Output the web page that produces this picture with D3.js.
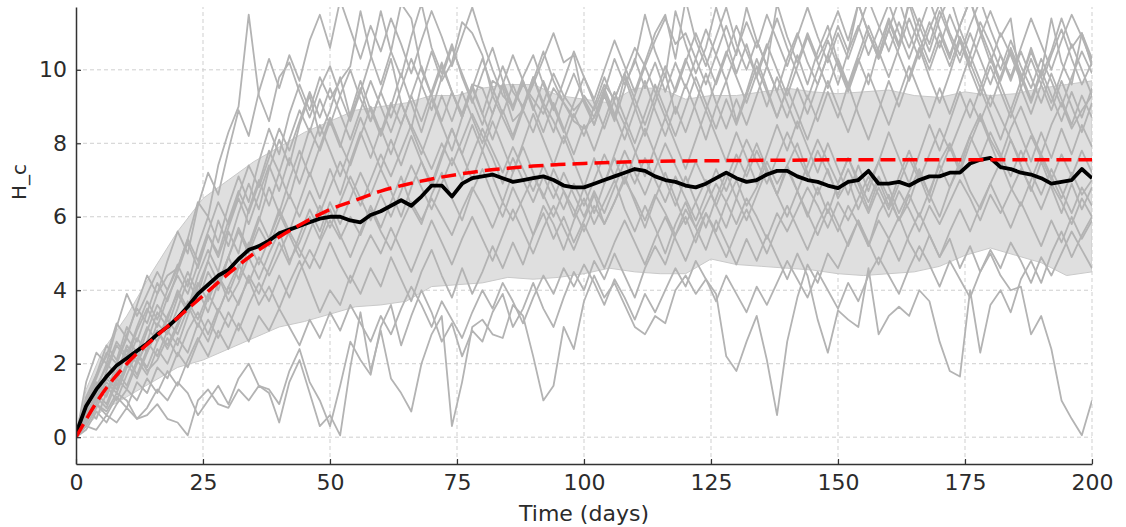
<!DOCTYPE html>
<html>
<head>
<meta charset="utf-8">
<script src="https://cdn.jsdelivr.net/npm/d3@7"></script>
<style>
  html, body { margin: 0; padding: 0; background: #fff; }
  svg { display: block; font-family: "DejaVu Sans", sans-serif; }
</style>
</head>
<body>
<div id="chart"></div>
<script>
// tick labels
const xTicks = [0, 25, 50, 75, 100, 125, 150, 175, 200];
const yTicks = [0, 2, 4, 6, 8, 10];

// simulated runs are sampled every 2 days (0..200)
const stepDays = d3.range(0, 201, 2);

const run01 = [
  0, 0.3, 0.2, 0.6, 0.4, 0.8, 0.5, 0.6, 0.9, 0.5,
  0.4, 0.05, 1.0, 1.3, 0.9, 0.8, 1.3, 1.0, 1.4, 1.2,
  0.4, 1.5, 2.1, 1.2, 0.3, 0.6, 0.05, 1.9, 3.4, 1.8,
  2.9, 1.6, 1.2, 0.7, 2.0, 2.8, 3.3, 0.3, 1.5, 3.0,
  3.2, 2.8, 2.7, 3.6, 3.3, 2.2, 1.0, 1.4, 3.0, 2.4,
  3.7, 4.4, 3.8, 4.2, 3.6, 3.0, 2.8, 3.3, 3.1, 4.0,
  4.4, 3.9, 4.3, 3.9, 2.2, 1.8, 2.6, 3.3, 2.1, 0.6,
  2.6, 3.8, 4.7, 4.2, 5.0, 4.6, 5.3, 5.9, 5.2, 6.1,
  6.6, 5.9, 6.4, 7.2, 6.6, 7.5, 8.0, 7.3, 8.2, 8.8,
  8.1, 7.6, 8.4, 9.0, 8.3, 7.7, 8.5, 9.1, 8.4, 8.9,
  9.3];
const run02 = [
  0, 0.5, 0.9, 0.7, 1.2, 1.0, 0.5, 0.8, 1.3, 1.0,
  1.5, 1.2, 0.6, 1.0, 1.4, 0.9, 1.6, 2.0, 1.4, 1.3,
  0.9, 1.8, 2.4, 1.5, 1.0, 0.3, 1.4, 2.6, 2.1, 1.7,
  3.0, 3.6, 2.5, 3.3, 4.0, 3.4, 2.6, 3.1, 2.2, 2.9,
  2.6, 3.4, 3.9, 3.0, 3.5, 4.2, 3.5, 3.0, 3.8, 4.5,
  4.0, 4.8, 4.3, 5.0, 4.4, 3.8, 4.6, 5.2, 4.7, 5.5,
  6.0, 5.3, 6.1, 5.6, 6.4, 7.0, 6.3, 6.8, 7.5, 6.9,
  7.4, 8.0, 7.2, 6.6, 7.3, 6.5, 7.0, 6.2, 6.9, 7.5,
  6.8, 6.1, 6.7, 7.3, 6.6, 6.0, 6.8, 7.4, 6.7, 6.2,
  6.9, 7.5, 6.8, 6.3, 7.0, 7.7, 7.1, 6.5, 7.2, 6.6,
  7.0];
const run03 = [
  0, 0.8, 1.3, 1.1, 1.8, 2.2, 1.7, 2.4, 2.9, 2.5,
  3.1, 3.6, 3.0, 3.8, 4.4, 3.7, 4.2, 4.9, 4.3, 5.0,
  5.6, 4.8, 5.3, 6.0, 5.4, 6.2, 5.5, 4.9, 5.6, 6.3,
  5.7, 6.4, 7.1, 6.3, 5.8, 6.6, 7.2, 6.5, 5.9, 6.7,
  7.3, 6.6, 6.0, 6.8, 6.2, 5.5, 6.3, 5.8, 5.1, 5.9,
  6.5, 5.8, 6.4, 7.0, 6.2, 5.6, 6.3, 5.7, 5.0, 5.8,
  6.4, 5.7, 5.1, 5.9, 5.3, 4.7, 5.4, 4.8, 5.5, 4.9,
  4.3, 5.0, 4.4, 3.2, 2.3, 3.45, 3.2, 3.0, 4.6, 2.8,
  3.3, 3.55, 3.3, 4.0, 3.7, 2.6, 1.8, 1.65, 4.0, 2.3,
  3.6, 4.0, 3.4, 4.3, 4.8, 4.2, 5.0, 5.6, 4.9, 5.5,
  6.0];
const run04 = [
  0, 0.6, 1.0, 1.5, 1.2, 1.9, 2.3, 1.8, 2.1, 2.7,
  2.2, 2.9, 3.4, 2.8, 3.5, 3.0, 3.7, 4.3, 3.6, 4.1,
  3.5, 4.2, 4.8, 4.1, 3.4, 4.0, 3.6, 4.4, 3.9, 4.6,
  4.1, 4.9, 4.3, 3.7, 4.5, 5.1, 4.4, 3.8, 4.6, 3.9,
  4.5, 5.2, 4.6, 5.3, 4.7, 5.5, 6.1, 5.4, 6.0, 5.3,
  5.9, 6.6, 5.8, 6.4, 7.1, 6.4, 5.7, 6.5, 7.2, 6.5,
  5.8, 6.4, 7.0, 6.3, 5.7, 6.5, 5.9, 6.6, 7.3, 6.6,
  6.0, 6.7, 6.1, 5.5, 6.2, 5.6, 6.3, 5.8, 5.2, 5.9,
  5.4, 6.0, 5.3, 4.8, 5.5, 4.9, 5.4, 4.6, 5.2, 4.5,
  5.0, 4.4, 4.0, 4.1, 2.8, 3.3, 2.4, 1.0, 0.5, 0.05,
  1.0];
const run05 = [
  0, 1.0, 1.6, 2.3, 2.0, 2.8, 3.5, 3.1, 3.9, 4.4,
  4.6, 5.4, 6.4, 6.0, 7.4, 8.3, 9.0, 11.5, 9.3, 8.6,
  9.8, 10.2, 9.4, 8.7, 9.5, 10.1, 9.3, 8.6, 9.4, 10.3,
  11.6, 10.5, 9.8, 10.9, 11.8, 10.6, 9.9, 10.7, 9.8, 9.1,
  9.9, 10.6, 9.7, 9.0, 9.8, 10.4, 9.6, 8.9, 9.7, 10.5,
  9.8, 9.2, 10.0, 10.8, 10.1, 9.4, 10.2, 11.0, 11.5, 10.3,
  11.9, 10.8, 10.1, 10.9, 11.7, 10.7, 10.0, 10.8, 10.1, 9.4,
  10.3, 11.0, 10.2, 9.6, 10.4, 11.2, 10.5, 11.8, 11.0, 10.4,
  11.3, 10.6, 11.9, 11.2, 10.5, 11.4, 12.0, 11.1, 10.4, 11.3,
  10.7, 10.0, 10.8, 10.1, 9.5, 10.3, 9.7, 9.0, 9.8, 10.5,
  9.9];
const run06 = [
  0, 0.7, 1.4, 1.9, 2.6, 2.2, 3.0, 3.7, 3.2, 4.0,
  4.7, 4.1, 5.2, 6.0, 5.3, 6.3, 7.1, 6.4, 7.5, 8.4,
  7.7, 8.8, 9.6, 8.9, 9.8, 9.2, 9.7, 10.1, 11.6, 10.4,
  9.6, 10.5, 11.8, 11.4, 10.0, 9.3, 10.1, 9.4, 8.8, 9.6,
  9.5, 8.8, 9.6, 10.4, 9.7, 8.9, 9.7, 9.0, 8.3, 9.1,
  9.8, 9.1, 8.4, 9.2, 9.9, 9.2, 8.5, 9.3, 10.1, 9.4,
  10.2, 11.0, 10.3, 9.6, 10.4, 11.2, 10.5, 9.8, 10.6, 11.4,
  10.6, 9.9, 9.2, 10.0, 10.8, 10.1, 9.4, 10.2, 11.0, 10.3,
  11.1, 10.4, 9.7, 10.5, 11.3, 10.6, 11.5, 10.8, 10.1, 10.9,
  11.6, 10.9, 11.4, 9.5, 8.8, 9.6, 8.9, 9.7, 9.0, 8.3,
  9.1];
const run07 = [
  0, 0.4, 1.1, 0.8, 1.5, 2.4, 2.0, 2.6, 3.4, 3.0,
  3.8, 4.5, 3.9, 4.8, 5.9, 5.2, 6.1, 6.9, 6.2, 7.3,
  8.1, 7.4, 8.5, 9.3, 8.2, 8.9, 9.8, 8.7, 9.5, 8.6,
  9.4, 10.3, 9.1, 8.4, 9.6, 10.5, 9.7, 10.2, 11.3, 11.0,
  10.4, 9.3, 10.1, 9.4, 9.0, 9.6, 10.3, 11.0, 10.2, 10.4,
  9.1, 8.5, 9.4, 8.7, 9.8, 9.0, 8.2, 9.1, 9.9, 8.8,
  9.6, 8.9, 8.1, 9.0, 9.7, 8.6, 9.4, 10.3, 9.5, 8.7,
  9.5, 10.4, 9.6, 10.5, 11.2, 10.2, 9.5, 10.3, 9.6, 10.6,
  11.4, 10.7, 11.8, 10.9, 10.2, 11.0, 10.3, 11.2, 11.9, 11.0,
  10.2, 11.0, 10.4, 9.7, 10.6, 9.8, 10.5, 11.4, 10.6, 11.0,
  10.3];
const run08 = [
  0, 0.9, 1.3, 2.0, 1.7, 2.5, 2.1, 2.9, 3.6, 3.2,
  4.0, 3.5, 4.4, 5.1, 4.5, 5.6, 5.0, 6.2, 7.0, 6.3,
  7.2, 6.5, 7.5, 8.4, 7.8, 8.6, 7.9, 8.8, 9.7, 8.9,
  8.2, 9.0, 9.9, 9.1, 8.3, 9.2, 8.5, 7.8, 8.7, 9.6,
  8.8, 9.7, 9.5, 8.6, 8.9, 9.8, 9.1, 9.9, 9.3, 8.9,
  9.2, 8.7, 9.4, 10.3, 9.6, 10.2, 11.5, 10.5, 9.8, 11.6,
  10.7, 9.9, 10.6, 11.7, 10.8, 9.9, 10.7, 9.8, 9.0, 9.8,
  9.1, 8.4, 9.3, 8.6, 9.4, 8.7, 9.6, 8.8, 8.1, 8.9,
  9.7, 9.0, 9.8, 10.6, 9.8, 9.1, 9.9, 10.8, 10.0, 9.3,
  10.1, 9.4, 8.7, 9.5, 10.3, 9.6, 10.4, 11.1, 10.3, 9.6,
  10.2];
const run09 = [
  0, 0.5, 0.9, 1.6, 1.3, 2.0, 2.7, 2.3, 3.1, 2.8,
  3.5, 4.3, 3.7, 4.5, 4.0, 4.9, 5.7, 5.1, 5.9, 6.8,
  6.1, 7.0, 7.8, 7.1, 7.9, 8.7, 8.0, 7.4, 8.2, 9.0,
  8.3, 9.1, 8.5, 9.3, 10.1, 9.3, 8.6, 9.4, 8.7, 9.5,
  8.8, 8.1, 8.9, 8.2, 9.0, 9.8, 9.0, 8.3, 9.2, 9.9,
  9.2, 8.5, 9.3, 8.6, 9.5, 10.3, 9.5, 10.2, 9.4, 10.2,
  9.5, 10.3, 9.6, 10.4, 11.2, 10.4, 11.7, 10.8, 10.1, 11.8,
  10.9, 10.2, 11.0, 10.3, 10.9, 11.6, 10.8, 11.8, 11.0, 10.3,
  11.1, 11.9, 11.0, 10.3, 11.1, 11.8, 11.0, 10.4, 11.2, 11.9,
  11.1, 10.4, 9.7, 10.5, 9.8, 9.1, 9.9, 9.2, 8.5, 9.3,
  8.7];
const run10 = [
  0, 0.6, 1.2, 0.9, 1.6, 1.3, 2.0, 2.6, 2.2, 2.9,
  2.5, 3.3, 4.0, 3.4, 4.2, 4.9, 4.3, 5.2, 6.0, 5.4,
  6.2, 5.6, 6.4, 7.2, 6.5, 7.3, 6.6, 7.5, 8.3, 7.6,
  8.4, 7.7, 8.5, 9.3, 8.6, 9.4, 10.2, 9.4, 8.7, 9.5,
  10.3, 9.5, 8.8, 9.6, 8.9, 9.7, 10.5, 9.7, 9.1, 8.6,
  8.4, 8.7, 9.5, 8.8, 8.1, 8.9, 9.7, 8.9, 8.2, 9.0,
  8.3, 9.1, 9.9, 9.1, 8.4, 9.2, 8.5, 9.3, 10.1, 9.4,
  8.7, 9.5, 8.8, 9.6, 10.4, 9.6, 10.5, 11.2, 10.4, 11.1,
  11.8, 11.0, 10.3, 11.1, 11.9, 11.1, 10.4, 11.2, 11.9, 11.1,
  10.4, 9.7, 10.5, 9.8, 9.1, 9.9, 11.4, 10.2, 9.6, 11.0,
  10.1];
const run11 = [
  0, 0.8, 0.5, 1.2, 1.8, 1.4, 2.1, 1.7, 2.4, 2.0,
  2.7, 2.3, 3.1, 2.6, 3.4, 4.1, 3.6, 4.4, 3.9, 4.6,
  5.3, 4.7, 5.5, 6.2, 5.6, 6.4, 5.8, 6.5, 7.2, 6.6,
  7.3, 6.7, 6.0, 6.8, 7.5, 6.9, 7.7, 8.4, 7.7, 7.0,
  7.8, 7.1, 6.4, 7.2, 7.9, 7.2, 6.5, 7.3, 6.7, 6.0,
  6.8, 6.1, 6.9, 7.6, 6.9, 7.7, 8.4, 7.7, 7.0, 6.3,
  7.1, 6.4, 5.7, 6.5, 7.2, 6.5, 7.3, 8.0, 7.3, 6.6,
  7.4, 6.7, 6.0, 6.8, 6.1, 6.9, 7.6, 6.9, 6.2, 7.0,
  6.3, 7.1, 7.8, 7.1, 6.4, 7.2, 7.9, 7.2, 8.0, 8.7,
  8.0, 7.3, 8.1, 7.4, 6.7, 7.5, 6.8, 6.1, 6.9, 6.2,
  6.8];
const run12 = [
  0, 1.1, 1.7, 2.5, 2.1, 3.0, 2.6, 3.4, 4.2, 3.7,
  4.5, 5.3, 4.6, 5.5, 4.9, 5.7, 6.5, 5.8, 6.6, 7.4,
  6.7, 7.6, 6.9, 7.7, 8.5, 7.8, 7.1, 7.9, 8.7, 8.0,
  7.3, 8.1, 7.4, 8.2, 7.5, 6.8, 7.6, 8.4, 7.7, 8.5,
  7.8, 8.6, 7.9, 7.2, 8.0, 8.8, 8.1, 7.4, 8.2, 7.5,
  6.8, 7.6, 6.9, 7.7, 8.5, 7.8, 7.1, 7.9, 8.7, 8.0,
  7.3, 8.1, 8.9, 8.2, 7.5, 8.3, 7.6, 6.9, 7.7, 8.5,
  7.8, 8.6, 7.9, 7.2, 8.0, 7.3, 6.6, 7.4, 6.7, 7.5,
  8.3, 7.6, 6.9, 7.7, 8.5, 7.8, 8.6, 9.4, 8.7, 9.5,
  8.8, 8.1, 8.9, 8.2, 7.5, 8.3, 7.6, 8.4, 7.7, 8.5,
  7.9];
const run13 = [
  0, 0.4, 0.9, 0.6, 1.1, 0.8, 1.5, 1.2, 1.9, 1.6,
  2.3, 1.9, 2.6, 3.2, 2.7, 3.4, 2.9, 3.6, 4.2, 3.7,
  4.4, 3.8, 4.5, 5.1, 4.6, 5.3, 4.7, 4.2, 4.9, 5.5,
  5.0, 5.7, 5.1, 4.5, 5.2, 5.9, 5.3, 4.7, 5.4, 6.0,
  5.4, 4.8, 5.5, 6.2, 5.6, 5.0, 5.7, 6.3, 5.7, 5.1,
  5.8, 5.2, 4.6, 5.3, 5.9, 5.3, 4.7, 5.4, 6.0, 5.4,
  4.8, 5.5, 6.1, 5.5, 4.9, 5.6, 6.2, 5.6, 5.0, 5.7,
  6.3, 5.7, 5.1, 5.8, 6.4, 5.8, 5.2, 5.9, 5.3, 4.7,
  5.4, 4.8, 5.5, 6.1, 5.5, 4.9, 5.6, 6.2, 5.6, 6.3,
  6.9, 6.3, 5.7, 6.4, 5.8, 5.2, 5.9, 5.3, 6.0, 5.4,
  5.9];
const run14 = [
  0, 0.9, 1.5, 1.2, 2.0, 2.7, 2.3, 3.0, 2.6, 3.3,
  3.9, 3.4, 4.1, 4.8, 4.2, 4.9, 5.6, 5.0, 5.7, 5.2,
  5.9, 6.6, 6.0, 6.7, 6.1, 6.8, 7.5, 6.9, 6.3, 7.0,
  7.7, 7.1, 7.8, 8.5, 7.9, 7.3, 8.0, 7.4, 8.1, 8.8,
  8.2, 7.6, 6.9, 7.6, 7.0, 6.4, 7.1, 6.5, 7.2, 6.6,
  6.0, 6.7, 6.1, 6.8, 7.5, 6.9, 7.6, 7.0, 6.4, 7.1,
  6.5, 5.9, 6.6, 7.3, 6.7, 7.4, 8.1, 7.5, 6.9, 7.6,
  8.3, 7.7, 7.1, 7.8, 7.2, 6.6, 7.3, 6.7, 6.1, 6.8,
  6.2, 6.9, 7.6, 7.0, 7.7, 8.4, 7.8, 8.5, 9.2, 8.6,
  9.3, 8.7, 8.1, 7.5, 8.2, 7.6, 7.0, 7.7, 7.1, 7.8,
  7.2];
const run15 = [
  0, 0.3, 0.8, 1.4, 1.0, 1.7, 2.3, 1.9, 2.6, 3.2,
  2.8, 3.5, 4.2, 3.7, 4.4, 3.9, 4.6, 5.3, 4.7, 5.4,
  6.1, 5.5, 4.9, 5.6, 6.3, 5.7, 6.4, 7.1, 6.5, 5.9,
  6.6, 6.0, 6.7, 7.4, 6.8, 6.2, 6.9, 7.6, 7.0, 7.7,
  8.4, 7.8, 7.2, 7.9, 7.3, 6.7, 7.4, 6.8, 6.2, 6.9,
  6.3, 7.0, 7.7, 7.1, 7.8, 7.2, 6.6, 7.3, 8.0, 7.4,
  6.8, 7.5, 6.9, 6.3, 7.0, 7.7, 7.1, 7.8, 7.2, 6.6,
  7.3, 6.7, 7.4, 8.1, 7.5, 6.9, 7.6, 7.0, 6.4, 7.1,
  6.5, 5.9, 6.6, 6.0, 6.7, 7.4, 6.8, 7.5, 8.2, 7.6,
  8.3, 7.7, 7.1, 7.8, 7.2, 6.6, 7.3, 6.7, 6.1, 6.8,
  6.3];
const run16 = [
  0, 1.5, 2.3, 2.0, 3.0, 3.9, 3.3, 3.9, 4.5, 4.0,
  4.6, 5.4, 4.8, 5.6, 6.4, 5.8, 6.6, 7.4, 6.8, 7.6,
  8.4, 7.8, 8.6, 9.4, 8.7, 9.5, 8.8, 8.1, 8.9, 9.7,
  9.0, 8.3, 9.1, 8.4, 7.7, 8.5, 9.3, 8.6, 9.4, 8.7,
  8.0, 8.8, 9.6, 8.9, 9.7, 9.0, 8.3, 9.1, 8.4, 7.7,
  8.5, 7.8, 8.6, 9.4, 8.7, 8.0, 8.8, 9.6, 8.9, 8.2,
  9.0, 9.8, 9.1, 8.4, 9.2, 8.5, 9.3, 10.1, 9.4, 8.7,
  9.5, 8.8, 8.1, 8.9, 9.7, 9.0, 8.3, 9.1, 9.9, 9.2,
  8.5, 9.3, 10.1, 9.4, 8.7, 9.5, 8.8, 9.6, 10.4, 9.7,
  9.0, 9.8, 10.6, 9.9, 9.2, 10.0, 9.3, 8.6, 9.4, 8.7,
  9.5];
const run17 = [
  0, 0.8, 1.7, 2.2, 3.1, 2.7, 3.6, 4.4, 3.9, 4.8,
  5.6, 5.0, 6.3, 7.2, 6.6, 7.8, 8.9, 8.2, 9.4, 10.3,
  9.5, 10.4, 9.7, 10.8, 11.5, 10.6, 11.9, 11.1, 10.3, 11.2,
  10.5, 11.4, 10.7, 9.9, 10.8, 11.6, 10.9, 10.1, 10.9, 11.7,
  10.8, 10.0, 9.3, 9.0, 9.6, 9.2, 8.8, 9.5, 9.1, 8.7,
  9.3, 8.9, 9.6, 9.2, 9.9, 10.6, 10.1, 10.8, 11.4, 10.7,
  11.0, 10.3, 11.1, 10.4, 9.7, 10.5, 11.3, 10.6, 11.5, 10.8,
  10.1, 10.9, 11.7, 10.9, 10.2, 11.0, 10.3, 11.1, 11.9, 11.2,
  10.5, 11.3, 10.6, 11.4, 10.7, 11.6, 10.9, 10.2, 11.0, 10.3,
  9.6, 10.4, 9.8, 10.6, 11.4, 10.7, 10.0, 10.8, 11.5, 10.9,
  10.2];
const run18 = [
  0, 0.7, 1.0, 1.8, 2.5, 2.1, 2.9, 3.5, 3.0, 3.8,
  4.4, 3.9, 4.7, 5.5, 5.0, 5.9, 6.7, 6.1, 6.9, 7.8,
  7.2, 8.1, 8.9, 8.3, 9.2, 8.5, 9.3, 10.0, 9.2, 8.6,
  9.4, 8.7, 9.5, 10.3, 9.6, 8.9, 9.8, 10.6, 9.9, 9.2,
  8.5, 9.3, 8.7, 8.1, 8.9, 8.3, 9.1, 8.6, 8.0, 8.8,
  8.2, 9.0, 9.8, 9.1, 8.5, 9.3, 10.1, 9.4, 8.7, 9.5,
  10.3, 9.6, 8.9, 9.7, 10.5, 9.8, 9.1, 9.9, 10.7, 10.0,
  9.3, 10.1, 10.9, 10.2, 9.5, 10.3, 9.6, 10.4, 11.2, 10.5,
  9.8, 10.6, 11.4, 10.7, 10.0, 10.8, 10.1, 10.9, 10.2, 9.5,
  10.3, 9.6, 8.9, 9.7, 10.5, 9.8, 9.1, 9.9, 10.7, 10.0,
  9.3];
const run19 = [
  0, 0.2, 0.7, 0.4, 0.9, 1.3, 1.0, 1.6, 1.2, 1.8,
  1.4, 2.1, 2.7, 2.2, 2.9, 2.4, 3.1, 2.6, 3.3, 2.9,
  3.5, 3.0, 2.5, 3.2, 2.7, 3.4, 2.9, 3.6, 3.1, 2.6,
  3.3, 2.8, 3.5, 4.1, 3.6, 3.0, 3.7, 3.2, 2.7, 3.4,
  4.0, 3.5, 4.2, 3.7, 3.1, 3.8, 4.4, 3.9, 4.6, 4.1,
  4.7, 4.2, 3.6, 4.3, 3.8, 3.2, 3.9, 3.4, 4.0, 4.6,
  4.1, 4.8, 4.3, 3.7, 4.4, 3.9, 3.4, 4.1, 3.6, 4.2,
  4.8, 4.3, 3.8, 4.5, 4.0, 3.5, 4.2, 3.7, 4.4, 4.9,
  4.4, 3.9, 4.6, 5.2, 4.7, 4.1, 4.8, 4.3, 3.8, 4.5,
  5.1, 4.6, 5.3, 4.8, 4.2, 4.9, 4.4, 5.0, 5.6, 5.1,
  4.6];
const run20 = [
  0, 0.6, 1.1, 1.7, 1.4, 2.0, 1.6, 2.3, 2.9, 2.4,
  3.0, 3.7, 3.2, 3.9, 3.4, 4.1, 4.7, 4.2, 4.9, 4.4,
  5.0, 5.6, 5.1, 4.6, 5.3, 5.9, 5.4, 6.0, 5.5, 6.2,
  5.6, 5.1, 5.8, 6.4, 5.9, 6.5, 6.0, 5.5, 6.2, 6.8,
  6.3, 5.7, 6.4, 5.9, 6.5, 7.1, 6.6, 6.0, 6.7, 6.2,
  5.6, 6.3, 5.8, 6.4, 7.0, 6.5, 5.9, 6.6, 6.1, 5.5,
  6.2, 5.7, 6.3, 6.9, 6.4, 5.8, 6.5, 6.0, 5.4, 6.1,
  5.6, 6.2, 6.8, 6.3, 5.7, 6.4, 5.9, 6.5, 7.1, 6.6,
  6.0, 6.7, 6.2, 5.6, 6.3, 5.8, 6.4, 7.0, 6.5, 5.9,
  6.6, 6.1, 6.7, 7.3, 6.8, 6.2, 6.9, 6.4, 5.8, 6.5,
  6.0];

const runs = [run01, run02, run03, run04, run05, run06, run07, run08, run09, run10,
              run11, run12, run13, run14, run15, run16, run17, run18, run19, run20];

// ensemble mean (black), same 2-day grid
const meanValues = [
  0.1, 0.85, 1.3, 1.65, 1.95, 2.15, 2.35, 2.55, 2.8, 3.0,
  3.25, 3.55, 3.9, 4.15, 4.4, 4.55, 4.85, 5.1, 5.2, 5.35,
  5.55, 5.65, 5.75, 5.85, 5.95, 6.0, 6.0, 5.9, 5.85, 6.05,
  6.15, 6.3, 6.45, 6.3, 6.55, 6.85, 6.85, 6.55, 6.9, 7.05,
  7.1, 7.15, 7.05, 6.95, 7.0, 7.05, 7.1, 7.0, 6.85, 6.8,
  6.8, 6.9, 7.0, 7.1, 7.2, 7.3, 7.25, 7.1, 7.0, 6.95,
  6.85, 6.8, 6.9, 7.05, 7.2, 7.05, 6.95, 7.0, 7.15, 7.25,
  7.25, 7.1, 7.0, 6.95, 6.85, 6.78, 6.95, 7.0, 7.25, 6.9,
  6.9, 6.95, 6.85, 7.0, 7.1, 7.1, 7.2, 7.2, 7.45, 7.55,
  7.6, 7.35, 7.3, 7.2, 7.15, 7.05, 6.9, 6.95, 7.0, 7.3,
  7.05];

// shaded spread band
const bandDays = [0, 2, 5, 10, 15, 20, 25, 30, 35, 40, 45, 50, 55, 60, 65, 70, 75, 80, 85, 90,
  95, 100, 105, 110, 115, 120, 125, 130, 135, 140, 145, 150, 155, 160, 165, 170, 175, 180,
  185, 190, 195, 200];
const bandUpper = [0, 1.3, 2.3, 3.3, 4.5, 5.6, 6.5, 7.0, 7.5, 7.9, 8.3, 8.6, 8.9, 9.0, 9.1, 9.3,
  9.3, 9.5, 9.6, 9.6, 9.3, 9.2, 9.1, 9.5, 9.5, 9.2, 9.3, 9.3, 9.4, 9.5, 9.4, 9.35, 9.4, 9.45,
  9.3, 9.25, 9.4, 9.3, 9.35, 9.5, 9.6, 9.7];
const bandLower = [0, 0.3, 0.7, 1.1, 1.5, 1.9, 2.1, 2.4, 2.7, 3.0, 3.15, 3.35, 3.55, 3.6, 3.7,
  4.1, 4.15, 4.2, 4.35, 4.3, 4.35, 4.45, 4.6, 4.5, 4.45, 4.45, 4.85, 4.7, 4.65, 4.6, 4.55,
  4.45, 4.4, 4.45, 4.5, 4.65, 4.95, 5.15, 4.95, 4.75, 4.4, 4.5];

// deterministic curve (red dashed)
const theoryDays = [0, 5, 10, 15, 20, 25, 30, 35, 40, 45, 50, 55, 60, 65, 70, 75, 80, 85, 90,
  95, 100, 110, 120, 130, 140, 150, 175, 200];
const theoryValues = [0, 1.15, 2.0, 2.65, 3.25, 3.85, 4.45, 5.0, 5.45, 5.85, 6.2, 6.45, 6.7,
  6.88, 7.03, 7.15, 7.25, 7.32, 7.38, 7.42, 7.45, 7.5, 7.52, 7.53, 7.54, 7.55, 7.55, 7.55];

const width = 1126, height = 527;
const margin = {top: 7, right: 34, bottom: 63, left: 76};
const textColor = '#2b2b2b';

const svg = d3.select('#chart')
  .append('svg')
  .attr('width', width)
  .attr('height', height);

const x = d3.scaleLinear().domain([0, 200]).range([margin.left, width - margin.right]);
const y = d3.scaleLinear().domain([-0.73, 11.71]).range([height - margin.bottom, margin.top]);

svg.append('clipPath').attr('id', 'plot-clip')
  .append('rect')
  .attr('x', margin.left)
  .attr('y', margin.top)
  .attr('width', width - margin.left - margin.right)
  .attr('height', height - margin.top - margin.bottom);

// grid
let grid = svg.append('g').attr('class', 'grid');
grid.selectAll('line.gx')
  .data(xTicks.filter(d => d > 0))
  .join('line')
  .attr('x1', d => x(d)).attr('x2', d => x(d))
  .attr('y1', y.range()[0]).attr('y2', y.range()[1])
  .attr('stroke', '#cfcfcf').attr('stroke-width', 1).attr('stroke-dasharray', '4,3');
grid.selectAll('line.gy')
  .data(yTicks)
  .join('line')
  .attr('x1', x.range()[0]).attr('x2', x.range()[1])
  .attr('y1', d => y(d)).attr('y2', d => y(d))
  .attr('stroke', '#cfcfcf').attr('stroke-width', 1).attr('stroke-dasharray', '4,3');

let plot = svg.append('g').attr('clip-path', 'url(#plot-clip)');

// spread band
const bandArea = d3.area()
  .x((d, i) => x(bandDays[i]))
  .y0((d, i) => y(bandLower[i]))
  .y1(d => y(d));
plot.append('path')
  .attr('d', bandArea(bandUpper))
  .attr('fill', '#dfdfdf')
  .attr('stroke', '#c9c9c9')
  .attr('stroke-width', 1);

// individual runs
const runLine = d3.line()
  .x((d, i) => x(stepDays[i]))
  .y(d => y(d));
plot.selectAll('path.run')
  .data(runs)
  .join('path')
  .attr('class', 'run')
  .attr('d', runLine)
  .attr('fill', 'none')
  .attr('stroke', '#b3b3b3')
  .attr('stroke-width', 1.8)
  .attr('stroke-linejoin', 'round');

// mean
plot.append('path')
  .attr('d', runLine(meanValues))
  .attr('fill', 'none')
  .attr('stroke', 'black')
  .attr('stroke-width', 3.8)
  .attr('stroke-linejoin', 'round');

// theory curve
const theoryLine = d3.line()
  .x((d, i) => x(theoryDays[i]))
  .y(d => y(d))
  .curve(d3.curveMonotoneX);
plot.append('path')
  .attr('d', theoryLine(theoryValues))
  .attr('fill', 'none')
  .attr('stroke', '#ff0000')
  .attr('stroke-width', 3.5)
  .attr('stroke-dasharray', '15,7');

// axes
const xAxis = svg.append('g')
  .attr('transform', `translate(0,${height - margin.bottom})`)
  .call(d3.axisBottom(x).tickValues(xTicks).tickSizeInner(-5).tickSizeOuter(0).tickPadding(10));
const yAxis = svg.append('g')
  .attr('transform', `translate(${margin.left},0)`)
  .call(d3.axisLeft(y).tickValues(yTicks).tickSizeInner(-5).tickSizeOuter(0).tickPadding(9));

[xAxis, yAxis].forEach(a => {
  a.select('.domain').attr('stroke', '#333').attr('stroke-width', 1.5);
  a.selectAll('.tick line').attr('stroke', '#333').attr('stroke-width', 1.2);
  a.selectAll('.tick text')
    .attr('fill', textColor)
    .attr('font-size', '22px')
    .attr('font-family', '"DejaVu Sans", sans-serif');
});

svg.append('text')
  .attr('x', (x.range()[0] + x.range()[1]) / 2)
  .attr('y', 521)
  .attr('text-anchor', 'middle')
  .attr('font-size', '22px')
  .attr('fill', textColor)
  .text('Time (days)');

svg.append('text')
  .attr('transform', 'translate(26,182) rotate(-90)')
  .attr('text-anchor', 'middle')
  .attr('font-size', '20px')
  .attr('fill', textColor)
  .text('H_c');
</script>
</body>
</html>
